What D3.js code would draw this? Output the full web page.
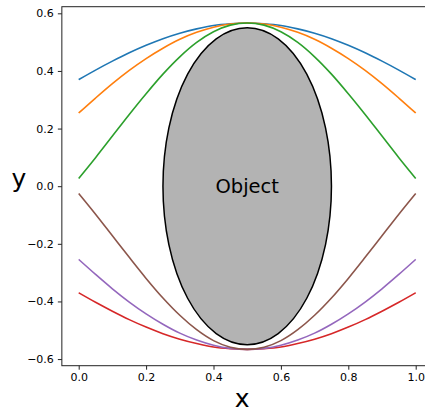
<!DOCTYPE html>
<html>
<head>
<meta charset="utf-8">
<script src="https://cdn.jsdelivr.net/npm/d3@7"></script>
<style>
  body { margin: 0; background: #fff; }
  text { font-family: "DejaVu Sans", sans-serif; fill: #000; }
</style>
</head>
<body>
<div id="chart"></div>
<script>
// data
var xValues = [0.00, 0.05, 0.10, 0.15, 0.20, 0.25, 0.30, 0.35, 0.40, 0.45, 0.50,
               0.55, 0.60, 0.65, 0.70, 0.75, 0.80, 0.85, 0.90, 0.95, 1.00];

var blueLine   = [0.370, 0.403, 0.434, 0.463, 0.489, 0.512, 0.531, 0.546, 0.558, 0.564, 0.5665,
                  0.564, 0.558, 0.546, 0.531, 0.512, 0.489, 0.463, 0.434, 0.403, 0.370];
var orangeLine = [0.254, 0.306, 0.356, 0.402, 0.443, 0.479, 0.510, 0.534, 0.552, 0.563, 0.5665,
                  0.563, 0.552, 0.534, 0.510, 0.479, 0.443, 0.402, 0.356, 0.306, 0.254];
var greenLine  = [0.027, 0.099, 0.174, 0.249, 0.321, 0.389, 0.449, 0.499, 0.536, 0.559, 0.5665,
                  0.559, 0.536, 0.499, 0.449, 0.389, 0.321, 0.249, 0.174, 0.099, 0.027];
var redLine    = [-0.370, -0.403, -0.434, -0.463, -0.489, -0.512, -0.531, -0.546, -0.558, -0.564, -0.5665,
                  -0.564, -0.558, -0.546, -0.531, -0.512, -0.489, -0.463, -0.434, -0.403, -0.370];
var purpleLine = [-0.254, -0.306, -0.356, -0.402, -0.443, -0.479, -0.510, -0.534, -0.552, -0.563, -0.5665,
                  -0.563, -0.552, -0.534, -0.510, -0.479, -0.443, -0.402, -0.356, -0.306, -0.254];
var brownLine  = [-0.025, -0.097, -0.172, -0.247, -0.320, -0.388, -0.448, -0.498, -0.536, -0.559, -0.5665,
                  -0.559, -0.536, -0.498, -0.448, -0.388, -0.320, -0.247, -0.172, -0.097, -0.025];

var seriesList = [blueLine, orangeLine, greenLine, redLine, purpleLine, brownLine];
var seriesColors = ["#1f77b4", "#ff7f0e", "#2ca02c", "#d62728", "#9467bd", "#8c564b"];

// the object: ellipse centre and half axes
var objectCenter = [0.5, 0.0];
var objectRadii = [0.25, 0.55];
var objectLabel = "Object";

var xTicks = [0.0, 0.2, 0.4, 0.6, 0.8, 1.0];
var yTicks = [-0.6, -0.4, -0.2, 0.0, 0.2, 0.4, 0.6];

// SVG setup
var svgWidth = 425;
var svgHeight = 409;

var margin = { top: 6.7, left: 61.85 };
var width = 370.7;
var height = 359;

var svg = d3.select("#chart")
  .append("svg")
  .attr("width", svgWidth)
  .attr("height", svgHeight);

var chartGroup = svg.append("g")
  .attr("transform", `translate(${margin.left}, ${margin.top})`);

// scales (matplotlib style 5% margins)
var xScale = d3.scaleLinear()
  .domain([-0.05, 1.05])
  .range([0, width]);

var yScale = d3.scaleLinear()
  .domain([-0.623, 0.623])
  .range([height, 0]);

// lines
var line = d3.line()
  .x((d, i) => xScale(xValues[i]))
  .y(d => yScale(d))
  .curve(d3.curveMonotoneX);

seriesList.forEach(function(series, i) {
  chartGroup.append("path")
    .datum(series)
    .attr("d", line)
    .attr("fill", "none")
    .attr("stroke", seriesColors[i])
    .attr("stroke-width", 1.6);
});

// the object
chartGroup.append("ellipse")
  .attr("cx", xScale(objectCenter[0]))
  .attr("cy", yScale(objectCenter[1]))
  .attr("rx", xScale(objectRadii[0]) - xScale(0))
  .attr("ry", yScale(0) - yScale(objectRadii[1]))
  .attr("fill", "#b3b3b3")
  .attr("stroke", "#000")
  .attr("stroke-width", 1.5);

chartGroup.append("text")
  .attr("x", xScale(objectCenter[0]))
  .attr("y", yScale(objectCenter[1]))
  .attr("text-anchor", "middle")
  .attr("dominant-baseline", "central")
  .style("font-size", "19.5px")
  .text(objectLabel);

// axes
var fmt = d => d3.format(".1f")(d).replace("-", "\u2212");

var bottomAxis = d3.axisBottom(xScale)
  .tickValues(xTicks)
  .tickFormat(fmt)
  .tickSizeOuter(0)
  .tickSize(4)
  .tickPadding(4);

var leftAxis = d3.axisLeft(yScale)
  .tickValues(yTicks)
  .tickFormat(fmt)
  .tickSizeOuter(0)
  .tickSize(4)
  .tickPadding(4);

var xAxis = chartGroup.append("g")
  .attr("transform", `translate(0, ${height})`)
  .call(bottomAxis);

var yAxis = chartGroup.append("g")
  .call(leftAxis);

[xAxis, yAxis].forEach(function(ax) {
  ax.select(".domain").remove();
  ax.selectAll("text")
    .style("font-family", "DejaVu Sans, sans-serif")
    .style("font-size", "11px")
    .attr("fill", "#222");
  ax.selectAll("line").attr("stroke", "#222").attr("stroke-width", 1);
});

// frame
chartGroup.append("rect")
  .attr("x", 0)
  .attr("y", 0)
  .attr("width", width)
  .attr("height", height)
  .attr("fill", "none")
  .attr("stroke", "#222")
  .attr("stroke-width", 1);

// axis titles
chartGroup.append("text")
  .attr("x", xScale(0.5) - 5)
  .attr("y", height + 41.5)
  .attr("text-anchor", "middle")
  .style("font-size", "25px")
  .text("x");

chartGroup.append("text")
  .attr("x", -43)
  .attr("y", yScale(0) + 1)
  .attr("text-anchor", "middle")
  .style("font-size", "25px")
  .text("y");
</script>
</body>
</html>
